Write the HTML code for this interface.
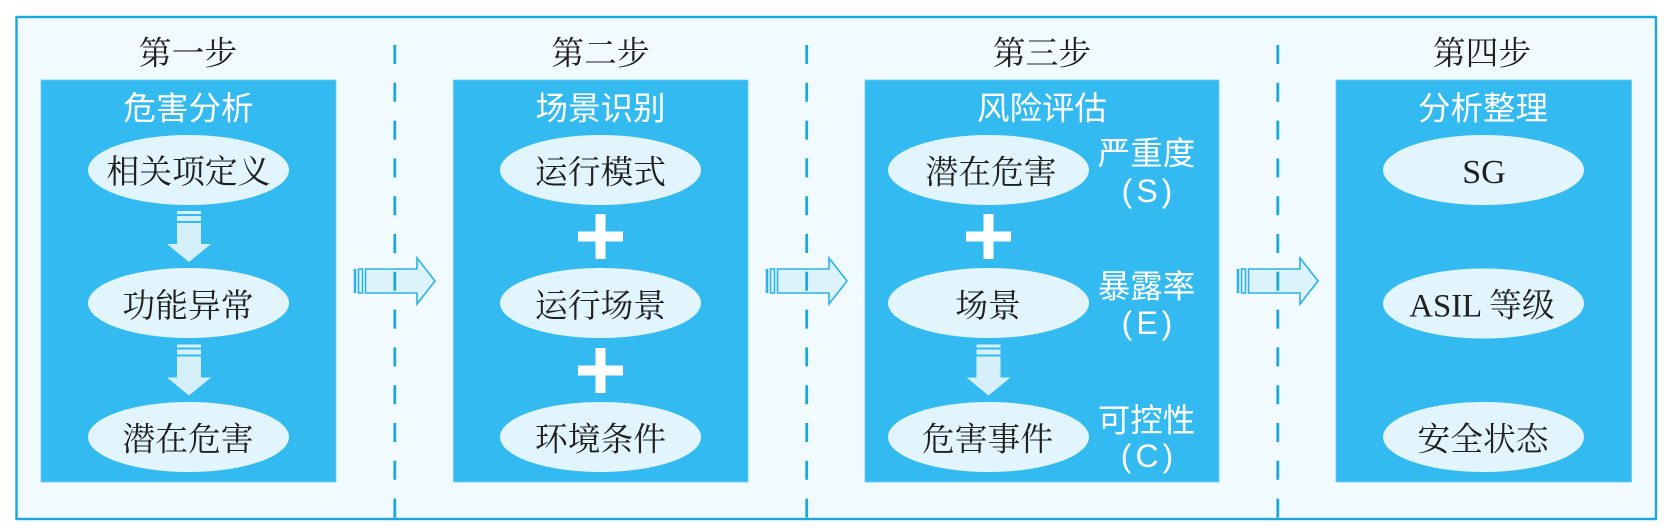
<!DOCTYPE html>
<html lang="zh"><head><meta charset="utf-8"><style>
html,body{margin:0;padding:0;background:#fff}
svg{display:block}
.b{font-family:"Liberation Serif","Noto Serif CJK SC",serif;font-size:32.8px;fill:#1f1f1f;text-anchor:middle}
.w{font-family:"Liberation Sans","Noto Sans CJK SC",sans-serif;font-size:32.5px;fill:#fff;text-anchor:middle}
.l{font-family:"Liberation Sans",sans-serif;font-size:32px;fill:#fff;text-anchor:middle;letter-spacing:4px}
.d{stroke:#1ba8dc;stroke-width:2.800;stroke-dasharray:19 18.8;fill:none}
.p{fill:#33bbf1;stroke:#6ccdf3;stroke-width:.8}
.e{fill:#e2f5fd}
</style></head><body>
<svg width="1669" height="531" viewBox="0 0 1669 531" xmlns="http://www.w3.org/2000/svg">
<defs>
<g id="da"><path d="M177 211h24v3h-24zM177 216h24v5h-24zM177 223h24v21h10l-22 18-22-18h10z" fill="#d5f0fb"/></g>
<g id="ra" fill="none" stroke="#2cb2e8" stroke-width="1.6">
<path d="M355 269v24" stroke-width="2.600"/><path d="M358.500 269h4v24h-4z" fill="#e2f5fd"/>
<path d="M365.500 269H417V258l18 23-18 23V293H365.500z" fill="#dcf3fc"/></g>
</defs>
<rect x="16.500" y="17" width="1639.500" height="502" fill="#f1fafe" stroke="#1ba8dc" stroke-width="2.400"/>
<rect class="p" x="41" y="80" width="295" height="402"/>
<rect class="p" x="453.300" y="80" width="294.700" height="402"/>
<rect class="p" x="865" y="80" width="354" height="402"/>
<rect class="p" x="1336" y="80" width="295.500" height="402"/>
<use href="#ra"/><use href="#ra" x="412"/><use href="#ra" x="883"/>
<path class="d" d="M394.800 45V519M806.700 45V519M1277.800 45V519"/>
<text class="b" x="188" y="64.500">第一步</text><text class="b" x="600.500" y="64.500">第二步</text><text class="b" x="1042" y="64.500">第三步</text><text class="b" x="1482" y="64.500">第四步</text>
<text class="w" x="188.500" y="119.500">危害分析</text><text class="w" x="600.500" y="119.500">场景识别</text><text class="w" x="1042" y="119.500">风险评估</text><text class="w" x="1483" y="119.500">分析整理</text>
<g class="e">
<ellipse cx="188.500" cy="170" rx="100.500" ry="35"/><ellipse cx="188.500" cy="303" rx="100.500" ry="35"/><ellipse cx="188.500" cy="437" rx="100.500" ry="35"/>
<ellipse cx="600.500" cy="170" rx="100.500" ry="35"/><ellipse cx="600.500" cy="303" rx="100.500" ry="35"/><ellipse cx="600.500" cy="437" rx="100.500" ry="35"/>
<ellipse cx="988.500" cy="170" rx="100.500" ry="35"/><ellipse cx="988.500" cy="303" rx="100.500" ry="35"/><ellipse cx="988.500" cy="437" rx="100.500" ry="35"/>
<ellipse cx="1483.500" cy="170" rx="100.500" ry="35"/><ellipse cx="1483.500" cy="303.500" rx="100.500" ry="35"/><ellipse cx="1483.500" cy="437" rx="100.500" ry="35"/>
</g>
<use href="#da"/><use href="#da" y="133.500"/><use href="#da" x="799.500" y="133.500"/>
<path fill="#fff" d="M595.500 214h10v17.500h17.500v10h-17.500v17.500h-10v-17.500h-17.500v-10h17.500zM595.500 348h10v17.500h17.500v10h-17.500v17.500h-10v-17.500h-17.500v-10h17.500zM983.500 214h10v17.500h17.500v10h-17.500v17.500h-10v-17.500h-17.500v-10h17.500z"/>
<text class="b" x="188.500" y="183">相关项定义</text><text class="b" x="188" y="317">功能异常</text><text class="b" x="188" y="450.500">潜在危害</text>
<text class="b" x="600.500" y="183.500">运行模式</text><text class="b" x="600.500" y="317">运行场景</text><text class="b" x="600.500" y="450.500">环境条件</text>
<text class="b" x="991" y="183.500">潜在危害</text><text class="b" x="988" y="317">场景</text><text class="b" x="987.500" y="450.500">危害事件</text>
<text class="b" x="1484" y="183" style="font-size:34px">SG</text><text class="b" x="1482" y="316.500">ASIL 等级</text><text class="b" x="1483" y="450.500">安全状态</text>
<text class="w" x="1146.500" y="164.500">严重度</text><text class="l" x="1149" y="202">(S)</text>
<text class="w" x="1146.500" y="297.500">暴露率</text><text class="l" x="1149" y="334">(E)</text>
<text class="w" x="1146.500" y="431.500">可控性</text><text class="l" x="1149" y="467">(C)</text>
</svg>
</body></html>
